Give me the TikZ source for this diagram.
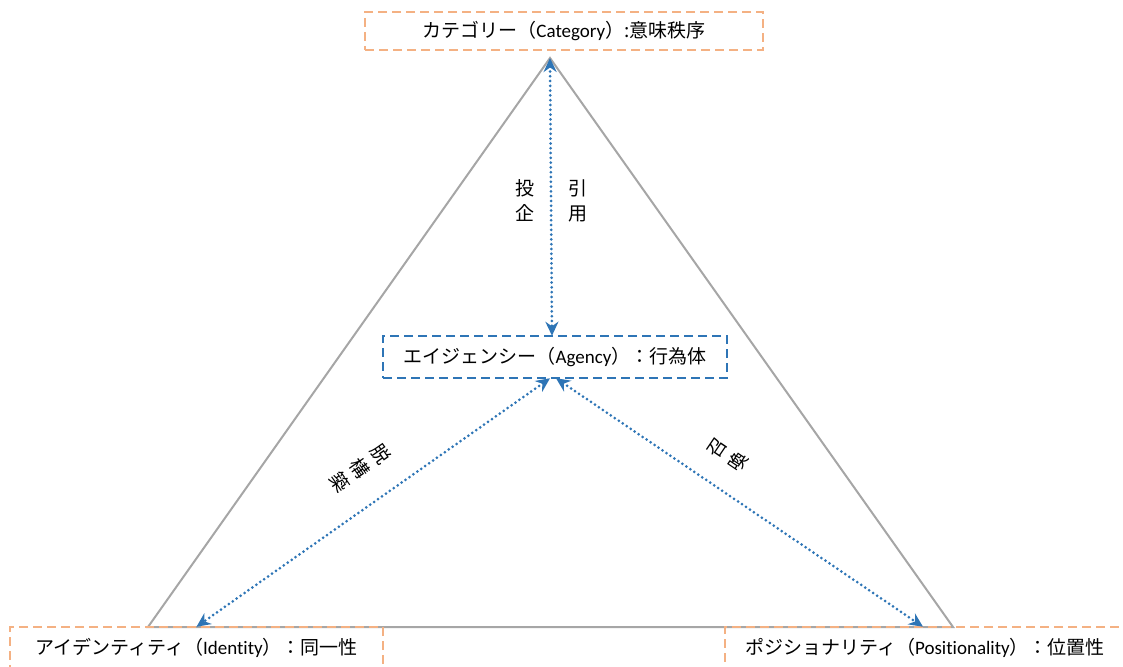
\documentclass[tikz,border=0pt]{standalone}
\usepackage{fontspec}
\setmainfont{Carlito}[Ligatures={NoCommon}]
\newfontfamily\jpf{Noto Sans CJK JP}
\newcommand\J[1]{{\jpf #1}}
\usetikzlibrary{arrows.meta}
\definecolor{boxorange}{HTML}{F4B183}
\definecolor{boxblue}{HTML}{2E75B6}
\definecolor{trigray}{HTML}{A6A6A6}
\tikzset{
  orangebox/.style={draw=boxorange, line width=2.5pt, dash pattern=on 9pt off 5pt,
    inner sep=0pt, font=\fontsize{19}{23}\selectfont},
  bluebox/.style={draw=boxblue, line width=2.5pt, dash pattern=on 9pt off 5pt,
    inner sep=0pt, font=\fontsize{19}{23}\selectfont},
  triline/.style={draw=trigray, line width=2pt},
  dotarrow/.style={draw=boxblue, line width=3pt, line cap=round, dash pattern=on 0pt off 4.8pt,
    {Stealth[length=14pt,width=13pt,fill=boxblue]}-{Stealth[length=14pt,width=13pt,fill=boxblue]}},
  lbl/.style={font=\jpf\fontsize{19}{25}\selectfont, align=center, inner sep=0pt},
  rlbl/.style={font=\jpf\fontsize{19}{25}\selectfont, align=center, inner sep=0pt}
}
\begin{document}
\begin{tikzpicture}[x=1pt,y=-1pt]
\useasboundingbox (0,0) rectangle (1123,666);
\clip (0,0) rectangle (1123,666);
% triangle
\coordinate (apex) at (550,58);
\coordinate (bl) at (148,627);
\coordinate (br) at (953,627);
\draw[triline] (apex) -- (bl) -- (br) -- cycle;
% boxes
\node[orangebox, minimum width=398pt, minimum height=38pt] (cat) at (564,31)
  {\J{カテゴリー（}Category\J{）:意味秩序}};
\node[bluebox, minimum width=344pt, minimum height=42pt] (agency) at (555,357)
  {\J{エイジェンシー（}Agency\J{）：行為体}};
\node[orangebox, minimum width=373pt, minimum height=42pt] (ident) at (196.5,648)
  {\J{アイデンティティ（}Identity\J{）：同一性}};
\node[orangebox, minimum width=400pt, minimum height=42pt] (posi) at (925,648)
  {\J{ポジショナリティ（}Positionality\J{）：位置性}};
% arrows
\draw[dotarrow] (apex) -- ([xshift=-3pt,yshift=-1pt]agency.north);
\draw[dotarrow] ([xshift=-5pt,yshift=1pt]agency.south) -- ([yshift=-1pt]ident.north);
\draw[dotarrow] ([xshift=1pt,yshift=1pt]agency.south) -- ([xshift=-2pt,yshift=-1pt]posi.north);
% labels
\node[lbl] (l1) at (525,201) {投\\企};
\node[lbl] (l2) at (578,201) {引\\用};
\node[rlbl, rotate=-55] (l3) at (360,468) {脱\\構\\築};
\node[rlbl, rotate=56] (l4) at (728,455) {召\\喚};
\end{tikzpicture}
\end{document}
